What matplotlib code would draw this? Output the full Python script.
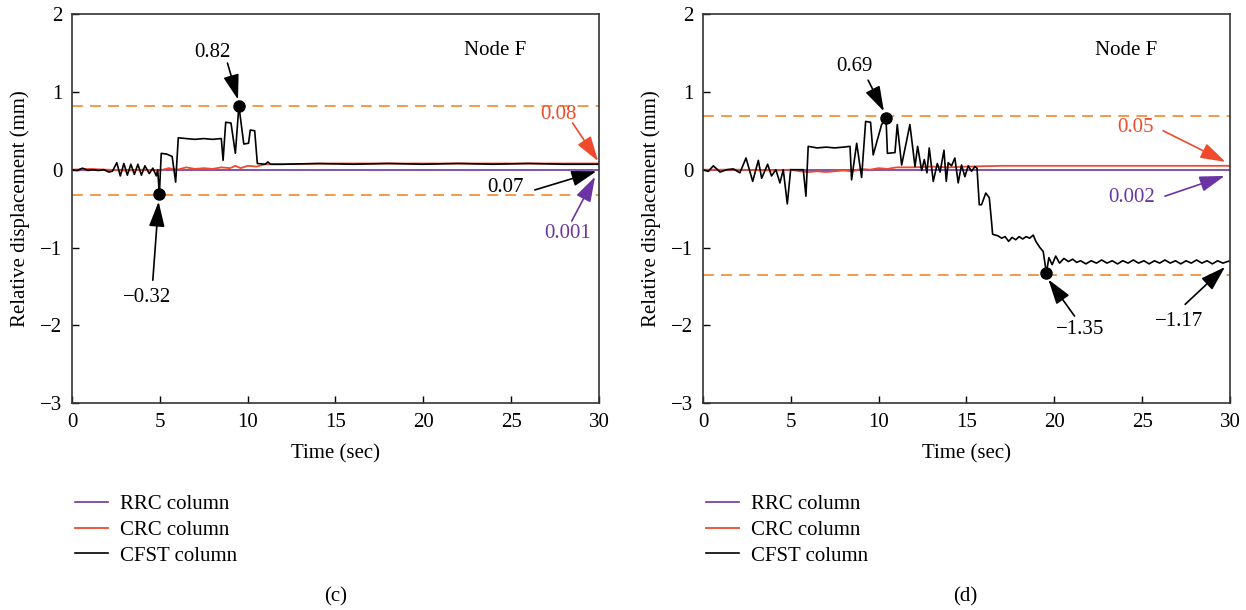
import matplotlib
matplotlib.use("Agg")
import matplotlib.pyplot as plt

plt.rcParams["font.family"] = ["Liberation Serif", "DejaVu Serif"]
plt.rcParams["font.size"] = 15

PURPLE = "#6a35a3"
RED = "#f04a2c"
ORANGE = "#f39140"

# ---- panel (c) ----
c_cfst_t = [0, 0.3, 0.6, 0.9, 1.2, 1.5, 1.8, 2.1, 2.3, 2.55, 2.75, 2.95, 3.15, 3.35, 3.55,
            3.75, 3.95, 4.15, 4.4, 4.6, 4.8, 4.88, 4.97, 5.08, 5.4, 5.7, 5.9, 6.05, 6.5, 7.0,
            7.5, 8.0, 8.5, 8.6, 8.75, 9.05, 9.3, 9.5, 9.78, 10.05, 10.15, 10.4, 10.55, 11.0,
            11.15, 11.3, 12, 14, 16, 18, 20, 22, 24, 26, 28, 30]
c_cfst_y = [0, -0.01, 0.02, -0.01, 0.0, -0.01, 0.0, -0.03, -0.02, 0.09, -0.08, 0.08, -0.07,
            0.07, -0.06, 0.07, -0.07, 0.05, -0.05, 0.02, -0.08, 0.0, -0.33, 0.21, 0.2, 0.17,
            -0.16, 0.41, 0.40, 0.39, 0.40, 0.39, 0.40, 0.12, 0.61, 0.60, 0.21, 0.82, 0.33, 0.34,
            0.51, 0.50, 0.08, 0.07, 0.1, 0.07, 0.07, 0.08, 0.07, 0.08, 0.07, 0.08, 0.07, 0.08,
            0.07, 0.07]
c_crc_t = [0, 1, 2, 3, 4, 5, 5.5, 6, 6.5, 7, 7.5, 8, 8.5, 9, 9.3, 9.6, 10, 10.5, 11, 12, 15,
           20, 25, 30]
c_crc_y = [0, 0.01, 0, -0.01, 0.0, -0.01, 0.02, 0.0, 0.03, 0.01, 0.02, 0.01, 0.03, 0.02, 0.05,
           0.02, 0.05, 0.04, 0.07, 0.07, 0.08, 0.08, 0.08, 0.08]
c_rrc_t = [0, 30]
c_rrc_y = [0.001, 0.001]
c_limits = [0.82, -0.32]
c_peaks_t = [9.5, 4.97]
c_peaks_y = [0.82, -0.31]

# ---- panel (d) ----
d_cfst_t = [0, 0.3, 0.59, 0.97, 1.35, 1.73, 2.1, 2.45, 2.83, 3.15, 3.34, 3.68, 3.9, 4.15,
            4.38, 4.57, 4.8, 4.99, 5.33, 5.71, 5.86, 5.99, 6.5, 7.0, 7.5, 8.0, 8.37, 8.46, 8.75,
            9.03, 9.26, 9.54, 9.69, 10.17, 10.42, 10.5, 10.93, 11.06, 11.31, 11.78, 12.07,
            12.22, 12.45, 12.6, 12.75, 12.88, 13.11, 13.34, 13.5, 13.72, 13.85, 13.96, 14.15,
            14.34, 14.53, 14.72, 14.91, 15.1, 15.29, 15.48, 15.6, 15.73, 15.86, 16.1, 16.3,
            16.4, 16.49, 16.8, 17.0, 17.2, 17.4, 17.6, 17.8, 18.0, 18.2, 18.4, 18.6, 18.8,
            18.95, 19.18, 19.37, 19.55, 19.69, 19.88, 20.08, 20.3, 20.55, 20.8, 21.05, 21.27,
            21.5, 21.8, 22.1, 22.4, 22.7, 23.0, 23.3, 23.6, 23.9, 24.2, 24.5, 24.8, 25.1, 25.4,
            25.7, 26.0, 26.3, 26.6, 26.9, 27.2, 27.5, 27.8, 28.1, 28.4, 28.7, 29.0, 29.3, 29.6,
            30]
d_cfst_y = [0, -0.02, 0.05, -0.03, 0.0, 0.01, -0.04, 0.15, -0.15, 0.12, -0.11, 0.07, -0.08,
            0.0, -0.17, 0.0, -0.44, 0.0, 0.0, 0.0, -0.34, 0.30, 0.28, 0.29, 0.28, 0.29, 0.30,
            -0.13, 0.34, -0.10, 0.62, 0.61, 0.19, 0.58, 0.66, 0.21, 0.22, 0.58, 0.06, 0.58,
            0.04, 0.30, -0.01, 0.13, -0.04, 0.28, -0.15, 0.08, -0.03, 0.25, -0.15, 0.09, 0.05,
            0.15, -0.17, 0.06, -0.09, 0.05, -0.02, 0.04, 0.02, -0.45, -0.45, -0.30, -0.36,
            -0.6, -0.83, -0.85, -0.88, -0.86, -0.92, -0.87, -0.90, -0.86, -0.89, -0.86, -0.88,
            -0.84, -0.92, -1.0, -1.05, -1.33, -1.13, -1.22, -1.11, -1.2, -1.14, -1.18, -1.15,
            -1.19, -1.17, -1.21, -1.17, -1.2, -1.16, -1.2, -1.17, -1.21, -1.17, -1.2, -1.16,
            -1.2, -1.17, -1.21, -1.17, -1.2, -1.16, -1.2, -1.17, -1.21, -1.17, -1.2, -1.16,
            -1.2, -1.17, -1.21, -1.17, -1.2, -1.17]
d_crc_t = [0, 2, 4, 5, 5.5, 6, 6.5, 7, 7.5, 8, 8.5, 9, 9.5, 10, 10.5, 11, 12, 13, 14, 15, 17,
           20, 25, 30]
d_crc_y = [0, 0, -0.01, 0.0, -0.02, -0.03, -0.02, -0.03, -0.02, -0.01, -0.02, 0.01, 0.0, 0.02,
           0.01, 0.03, 0.03, 0.04, 0.03, 0.04, 0.05, 0.05, 0.05, 0.05]
d_rrc_t = [0, 30]
d_rrc_y = [0.002, 0.002]
d_limits = [0.69, -1.35]
d_peaks_t = [10.42, 19.55]
d_peaks_y = [0.66, -1.33]

x_ticks = [0, 5, 10, 15, 20, 25, 30]
y_ticks = [-3, -2, -1, 0, 1, 2]


def arrow(ax, text, xy, xytext, tail, color):
    ax.annotate("", xy=xy, xytext=tail,
                arrowprops=dict(arrowstyle="-|>,head_length=0.7,head_width=0.22", color=color,
                                lw=1.2, mutation_scale=22, shrinkA=0, shrinkB=0))
    ax.text(xytext[0], xytext[1], text, color=color, ha="center", va="center", fontsize=15)


def panel(ax, cfst_t, cfst_y, crc_t, crc_y, rrc_t, rrc_y, limits, peaks_t, peaks_y):
    for v in limits:
        ax.axhline(v, color=ORANGE, lw=1.3, dashes=(6, 4))
    l1, = ax.plot(rrc_t, rrc_y, color=PURPLE, lw=1.2, label="RRC column")
    l2, = ax.plot(crc_t, crc_y, color=RED, lw=1.3, label="CRC column")
    l3, = ax.plot(cfst_t, cfst_y, color="black", lw=1.2, label="CFST column")
    ax.plot(peaks_t, peaks_y, "o", color="black", ms=8, zorder=5)
    ax.set_xlim(0, 30)
    ax.set_ylim(-3, 2)
    ax.set_xticks(x_ticks)
    ax.set_yticks(y_ticks)
    ax.tick_params(direction="in", length=5, width=1, labelsize=15, pad=7)
    for s in ax.spines.values():
        s.set_color("#333333")
        s.set_linewidth(1.2)
    ax.set_xlabel("Time (sec)", fontsize=15, labelpad=9)
    ax.set_ylabel("Relative displacement (mm)", fontsize=15, labelpad=7)
    ax.text(24.1, 1.53, "Node F", ha="center", va="center", fontsize=15)
    ax.legend(handles=[l1, l2, l3], loc="upper left", bbox_to_anchor=(-0.01, -0.213),
              frameon=False, fontsize=15, handlelength=1.6, handletextpad=0.55,
              labelspacing=0.3, borderaxespad=0)


fig = plt.figure(figsize=(12.46, 6.10), dpi=100)
ax1 = fig.add_axes([0.0578, 0.339, 0.4229, 0.638])
ax2 = fig.add_axes([0.5642, 0.339, 0.4229, 0.638])

panel(ax1, c_cfst_t, c_cfst_y, c_crc_t, c_crc_y, c_rrc_t, c_rrc_y, c_limits, c_peaks_t, c_peaks_y)
arrow(ax1, "0.82", (9.45, 0.9), (8.0, 1.51), (8.85, 1.37), "black")
arrow(ax1, "\u22120.32", (4.93, -0.41), (4.3, -1.64), (4.6, -1.42), "black")
arrow(ax1, "0.08", (29.95, 0.11), (27.7, 0.71), (28.5, 0.6), RED)
arrow(ax1, "0.07", (29.86, -0.02), (24.7, -0.23), (26.35, -0.26), "black")
arrow(ax1, "0.001", (29.78, -0.09), (28.2, -0.82), (28.45, -0.66), PURPLE)

panel(ax2, d_cfst_t, d_cfst_y, d_crc_t, d_crc_y, d_rrc_t, d_rrc_y, d_limits, d_peaks_t, d_peaks_y)
arrow(ax2, "0.69", (10.3, 0.75), (8.65, 1.33), (9.4, 1.15), "black")
arrow(ax2, "0.05", (29.75, 0.1), (24.6, 0.54), (26.2, 0.5), RED)
arrow(ax2, "0.002", (29.7, -0.08), (24.4, -0.36), (26.3, -0.34), PURPLE)
arrow(ax2, "\u22121.35", (19.66, -1.41), (21.5, -2.05), (21.15, -1.88), "black")
arrow(ax2, "\u22121.17", (29.72, -1.25), (27.1, -1.95), (27.45, -1.73), "black")

fig.text(0.269, 0.021, "(c)", ha="center", va="center", fontsize=15)
fig.text(0.7745, 0.021, "(d)", ha="center", va="center", fontsize=15)

fig.savefig("out.png", dpi=100)
